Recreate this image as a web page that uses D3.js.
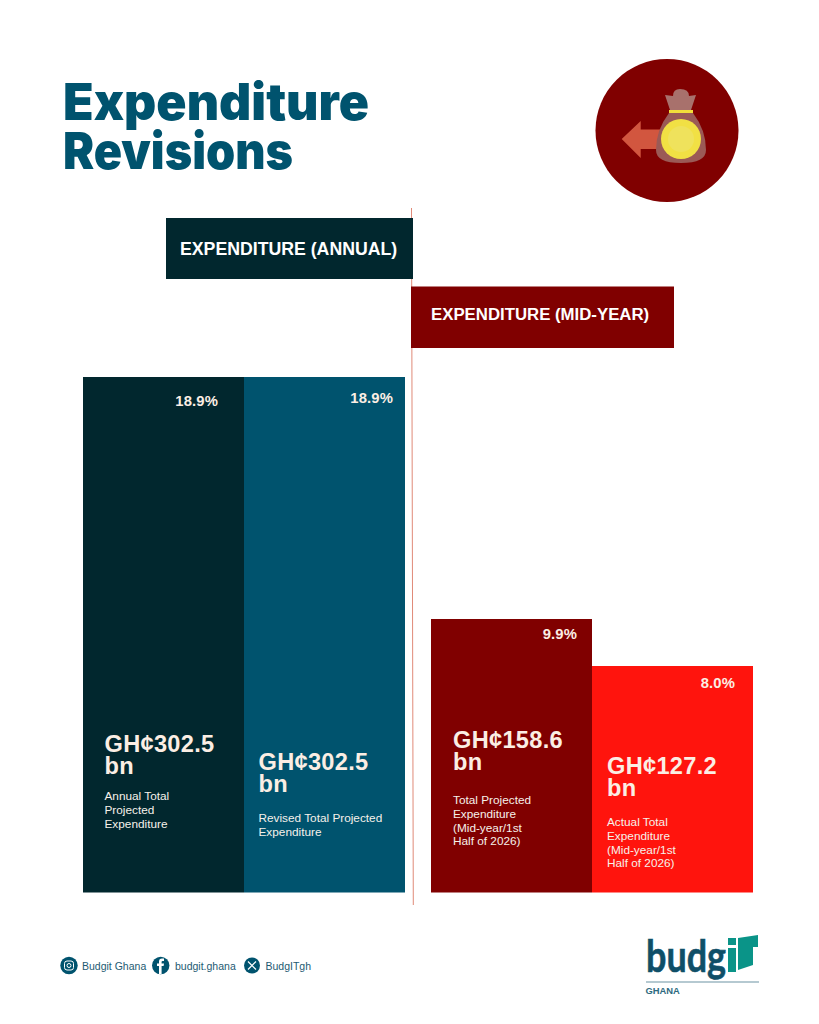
<!DOCTYPE html>
<html><head><meta charset="utf-8">
<script src="https://cdn.jsdelivr.net/npm/d3@7"></script>
<style>html,body{margin:0;padding:0;background:#fff}svg{display:block}</style>
</head><body><svg id="c" width="819" height="1024"></svg>
<script>
const titleLines = ["Expenditure","Revisions"];
const annualCategories = ["Annual Total Projected Expenditure","Revised Total Projected Expenditure"];
const midCategories = ["Total Projected Expenditure (Mid-year/1st Half of 2026)","Actual Total Expenditure (Mid-year/1st Half of 2026)"];
const annualValues = [302.5,302.5];
const midValues = [158.6,127.2];
const annualShares = ["18.9%","18.9%"];
const midShares = ["9.9%","8.0%"];
const panelLabels = ["EXPENDITURE (ANNUAL)","EXPENDITURE (MID-YEAR)"];
const socials = ["Budgit Ghana","budgit.ghana","BudgITgh"];

const svg = d3.select("#c");
const sans = "'Liberation Sans',Arial,sans-serif";
const titleFont = "Inter,'Noto Sans',sans-serif";
const y = d3.scaleLinear().domain([0,127.2,158.6,302.5]).range([892.5,666,619,377]);
const xA = d3.scaleBand().domain(annualCategories).range([83,405]);
const xM = d3.scaleBand().domain(midCategories).range([431,753]);

// title
const titleWidths = [306,230];
svg.selectAll("text.t").data(titleLines).join("text").attr("class","t")
  .attr("x",63).attr("y",(d,i)=>119.5+i*49).text(d=>d)
  .attr("font-family",titleFont).attr("font-weight",900).attr("font-size",50.5)
  .attr("textLength",(d,i)=>titleWidths[i]).attr("lengthAdjust","spacingAndGlyphs")
  .attr("fill","#00536e");

// axis divider
svg.append("line").attr("x1",411.5).attr("x2",413.3).attr("y1",208).attr("y2",905)
  .attr("stroke","#e08a78").attr("stroke-width",1);

// header boxes
svg.append("rect").attr("x",166).attr("y",218).attr("width",247).attr("height",61).attr("fill","#01272e");
svg.append("rect").attr("x",411).attr("y",286.5).attr("width",263).attr("height",61.5).attr("fill","#800000");
svg.append("text").attr("x",180).attr("y",254.5).text(panelLabels[0])
  .attr("font-family",sans).attr("font-weight",700).attr("font-size",17.7).attr("fill","#fff");
svg.append("text").attr("x",431).attr("y",320).text(panelLabels[1])
  .attr("font-family",sans).attr("font-weight",700).attr("font-size",16.8).attr("fill","#fff");

// bars
const annualColors = ["#01272e","#00536e"], midColors = ["#800000","#ff140d"];
function bars(cats,vals,x,cols){
  svg.append("g").selectAll("rect").data(cats).join("rect")
    .attr("x",d=>x(d)).attr("width",x.bandwidth())
    .attr("y",(d,i)=>y(vals[i])).attr("height",(d,i)=>y(0)-y(vals[i]))
    .attr("fill",(d,i)=>cols[i]);
}
bars(annualCategories,annualValues,xA,annualColors);
bars(midCategories,midValues,xM,midColors);

// percentages
function shares(cats,list,ys,xs){
  svg.append("g").selectAll("text").data(cats).join("text")
    .attr("x",(d,i)=>xs[i]).attr("y",(d,i)=>ys[i]).attr("text-anchor","end")
    .text((d,i)=>list[i]).attr("font-family",sans).attr("font-weight",700)
    .attr("font-size",14.8).attr("letter-spacing",0.15).attr("fill","#fbeee4");
}
shares(annualCategories,annualShares,[406,403],[218,393]);
shares(midCategories,midShares,[639,688],[577,735]);

// value labels
function amount(v,x0,y0){
  const t = svg.append("text").attr("font-family",sans).attr("font-weight",700)
    .attr("font-size",23.6).attr("letter-spacing",0.3).attr("fill","#fbeee4");
  t.append("tspan").attr("x",x0).attr("y",y0).text("GH¢"+d3.format(".1f")(v));
  t.append("tspan").attr("x",x0).attr("y",y0+22).text("bn");
}
amount(annualValues[0],104.5,752);
amount(annualValues[1],258.5,770);
amount(midValues[0],453,748);
amount(midValues[1],607,774);

// descriptions
function desc(lines,x0,y0){
  svg.append("g").selectAll("text").data(lines).join("text")
    .attr("x",x0).attr("y",(d,i)=>y0+i*13.8).text(d=>d)
    .attr("font-family",sans).attr("font-size",11.8).attr("fill","#f6f1ea");
}
desc(["Annual Total","Projected","Expenditure"],104.5,800);
desc(["Revised Total Projected","Expenditure"],258.5,822);
desc(["Total Projected","Expenditure","(Mid-year/1st","Half of 2026)"],453,804);
desc(["Actual Total","Expenditure","(Mid-year/1st","Half of 2026)"],607,826);

// icon
const icon = svg.append("g");
icon.append("circle").attr("cx",667).attr("cy",130.5).attr("r",71.5).attr("fill","#800000");
icon.append("path").attr("d","M621.7 139 L640.7 121 V129.5 H665 V149 H640.7 V158 Z").attr("fill","#d2563f");
icon.append("path").attr("d","M670 110 L665 95 L673 96 Q673 89 680 89 Q689 89 689 96 L696 95 L691 110 Z").attr("fill","#a8716c");
icon.append("path").attr("d","M669 113 H693 Q706 130 706 150 Q706 163 681 163 Q656 163 656 150 Q656 130 669 113 Z").attr("fill","#9b5a56");
icon.append("rect").attr("x",669).attr("y",110).attr("width",24).attr("height",3).attr("fill","#f2de3a");
icon.append("circle").attr("cx",681).attr("cy",139).attr("r",20).attr("fill","#f1e044");
icon.append("circle").attr("cx",681).attr("cy",139).attr("r",13).attr("fill","#efe25c");

// socials
const sx=[69,160.7,252], tx=[82,175,265.5];
svg.append("g").selectAll("circle").data(socials).join("circle")
  .attr("cx",(d,i)=>sx[i]).attr("cy",965.5).attr("r",(d,i)=>i==2?8:8.7).attr("fill","#00536e");
svg.append("g").selectAll("text").data(socials).join("text")
  .attr("x",(d,i)=>tx[i]).attr("y",969.5).text(d=>d)
  .attr("font-family",sans).attr("font-size",10.5).attr("fill","#1d5a72");
svg.append("rect").attr("x",64.5).attr("y",961).attr("width",9).attr("height",9).attr("rx",2.5).attr("fill","none").attr("stroke","#fff").attr("stroke-width",1);
svg.append("circle").attr("cx",69).attr("cy",965.5).attr("r",2).attr("fill","none").attr("stroke","#fff").attr("stroke-width",1);
svg.append("path").attr("d","M159 974 V966 H157 V963.5 H159 V961.5 Q159 958.5 162 958.5 H164 V961 H162.5 Q161.6 961 161.6 962 V963.5 H164 L163.6 966 H161.6 V974 Z").attr("fill","#fff");
svg.append("path").attr("d","M248 961.5 L256 969.5 M256 961.5 L248 969.5").attr("stroke","#fff").attr("stroke-width",1.2);

// logo
svg.append("text").attr("x",646).attr("y",972).text("budg").attr("font-family","Lato,'Noto Sans',sans-serif").attr("font-weight",700).attr("font-size",44)
  .attr("textLength",80).attr("lengthAdjust","spacingAndGlyphs").attr("stroke","#0f4f68").attr("stroke-width",0.6).attr("fill","#0f4f68");
svg.append("path").attr("d","M728 938 H736 V945 H728 Z M728 948 H736 V972 H728 Z M738 938 L758 935 V947 H753 V965 L738 970 V946 H738 Z").attr("fill","#0a9488");
svg.append("rect").attr("x",646).attr("y",981).attr("width",113).attr("height",2).attr("fill","#b5c9d1");
svg.append("text").attr("x",645.5).attr("y",993.5).text("GHANA").attr("font-family",sans).attr("font-weight",700).attr("font-size",9.4).attr("fill","#2d6a80");
</script></body></html>
